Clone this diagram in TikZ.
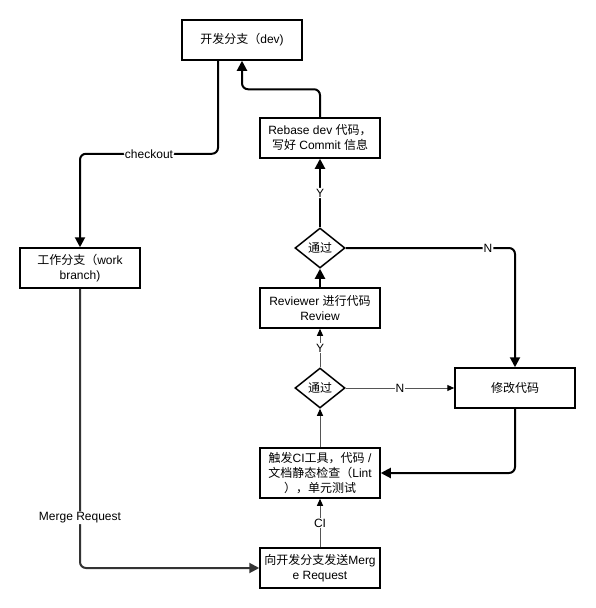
\documentclass[tikz,border=0pt]{standalone}
\usepackage{fontspec}
\setmainfont{Liberation Sans}
\newfontfamily\cjk{Noto Sans CJK SC}
\newcommand{\zh}[1]{{\cjk #1}}
\usetikzlibrary{shapes.geometric,arrows.meta}
\definecolor{thinline}{HTML}{555555}
\tikzset{
	box/.style={draw,line width=1.5pt,minimum width=120pt,minimum height=40pt,align=center,inner sep=2pt,font=\fontsize{12}{15}\selectfont},
	decision/.style={draw,diamond,line width=1.5pt,minimum width=50pt,minimum height=40pt,aspect=1.25,inner sep=0pt,font=\fontsize{12}{15}\selectfont},
	lbl/.style={fill=white,text=black,inner sep=1pt,font=\fontsize{12}{14}\selectfont},
	mainflow/.style={line width=2pt,rounded corners=6pt,-{Triangle[length=10pt,width=10pt]}},
	sideflow/.style={line width=1pt,thinline,-{Triangle[length=7pt,width=6pt,black]}},
}
\begin{document}
\begin{tikzpicture}[x=1pt,y=-1pt,line cap=butt,line join=miter]
	\useasboundingbox (0,0) rectangle (595,608);
	% boxes
	\node[box] (dev) at (242,40) {\zh{开发分支（}dev)};
	\node[box] (rebase) at (320,138) {Rebase dev \zh{代码，}\\\zh{写好} Commit \zh{信息}};
	\node[decision] (pass1) at (320,248) {\zh{通过}};
	\node[box] (review) at (320,308) {Reviewer \zh{进行代码}\\Review};
	\node[decision] (pass2) at (320,388) {\zh{通过}};
	\node[box] (fix) at (515,388) {\zh{修改代码}};
	\node[box,minimum height=50pt] (ci) at (320,473) {\zh{触发}CI\zh{工具，代码} /\\\zh{文档静态检查（}Lint\\\zh{），单元测试}};
	\node[box] (mr) at (320,568) {\zh{向开发分支发送}Merg\\e Request};
	\node[box] (work) at (80,268) {\zh{工作分支（}work\\branch)};
	% connectors
	\draw[mainflow] ([xshift=-24pt]dev.south) -- ++(0,93) -| node[lbl,pos=0.25]{checkout} (work.north);
	\draw[mainflow] (rebase.north) -- ++(0,-28) -| (dev.south);
	\draw[mainflow] (pass1.north) -- node[lbl]{Y} (rebase.south);
	\draw[mainflow] (review.north) -- (pass1.south);
	\draw[mainflow] (pass1.east) -| node[lbl,pos=0.42]{N} (fix.north);
	\draw[mainflow] (fix.south) |- (ci.east);
	\draw[mainflow,draw=black!80] (work.south) |- node[lbl,pos=0.41]{Merge Request} (mr.west);
	\draw[sideflow] (pass2.north) -- node[lbl]{Y} (review.south);
	\draw[sideflow] (pass2.east) -- node[lbl]{N} (fix.west);
	\draw[sideflow] (ci.north) -- (pass2.south);
	\draw[sideflow] (mr.north) -- node[lbl]{CI} (ci.south);
\end{tikzpicture}
\end{document}
